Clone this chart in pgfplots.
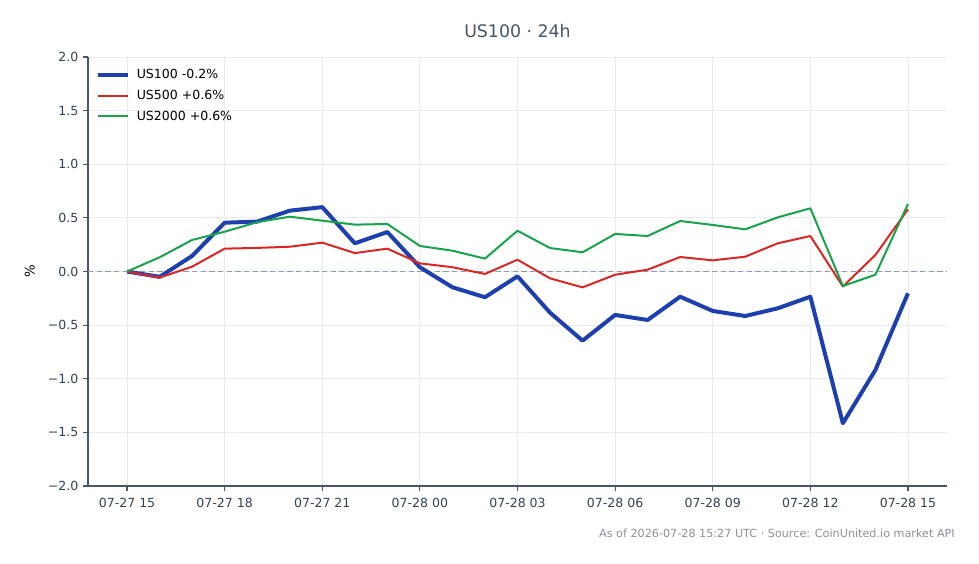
\documentclass[border=0pt]{standalone}
\usepackage{fontspec}
\setmainfont{DejaVu Sans}
\usepackage{pgfplots}
\pgfplotsset{compat=1.18}

\definecolor{cUSA}{HTML}{1E40AF}
\definecolor{cUSB}{HTML}{DC2626}
\definecolor{cUSC}{HTML}{16A34A}
\definecolor{spine}{HTML}{475569}
\definecolor{ticktxt}{HTML}{334155}
\definecolor{gridc}{HTML}{E8EBEF}
\definecolor{zeroc}{HTML}{8F9BB3}
\definecolor{foot}{HTML}{8A9099}

\begin{document}
\begin{tikzpicture}
\useasboundingbox (0pt,0pt) rectangle (734.25pt,423pt);
\begin{axis}[
  at={(66pt,58.5pt)}, anchor=south west,
  scale only axis, width=644.25pt, height=321.75pt,
  xmin=-1.2, xmax=25.2, ymin=-2, ymax=2,
  axis x line*=bottom, axis y line*=left,
  axis line style={spine, line width=0.9pt},
  tick align=outside, major tick length=3.75pt,
  tick style={spine, line width=0.9pt},
  xtick={0,3,...,24},
  xticklabels={07-27 15,07-27 18,07-27 21,07-28 00,07-28 03,07-28 06,07-28 09,07-28 12,07-28 15},
  ytick={-2,-1.5,...,2},
  yticklabels={−2.0,−1.5,−1.0,−0.5,0.0,0.5,1.0,1.5,2.0},
  ticklabel style={font=\fontsize{9.4pt}{11pt}\selectfont, text=ticktxt},
  xticklabel style={yshift=-1.8pt},
  grid=major, major grid style={gridc, line width=0.6pt},
  ylabel={\%}, ylabel style={font=\fontsize{10pt}{12pt}\selectfont, text=ticktxt},
  every axis y label/.style={at={(ticklabel cs:0.5)}, rotate=90, anchor=south, yshift=3pt},
  legend style={draw=none, fill=none, at={(0.0045,0.985)}, anchor=north west,
    font=\fontsize{9.4pt}{11pt}\selectfont, row sep=3.2pt,
    /tikz/every odd column/.append style={column sep=3pt}},
  legend cell align=left,
  legend image code/.code={\draw[#1] (0pt,0pt) -- (22.5pt,0pt);},
  clip=false,
]
\addplot[zeroc, line width=0.8pt, forget plot, dash pattern=on 4pt off 2.5pt] coordinates {(-1.2,0) (25.2,0)};
% US100
\addplot[cUSA, line width=3pt, line join=round] coordinates {
(0,0.0) (1,-0.05) (2,0.145) (3,0.455) (4,0.465) (5,0.567) (6,0.60) (7,0.263) (8,0.368)
(9,0.04) (10,-0.147) (11,-0.24) (12,-0.045) (13,-0.384) (14,-0.645) (15,-0.405)
(16,-0.452) (17,-0.235) (18,-0.368) (19,-0.415) (20,-0.343) (21,-0.235) (22,-1.415)
(23,-0.918) (24,-0.203)};
\addlegendentry{US100 -0.2\%}
% US500
\addplot[cUSB, line width=1.5pt, line join=round] coordinates {
(0,0.0) (1,-0.057) (2,0.045) (3,0.213) (4,0.22) (5,0.231) (6,0.269) (7,0.172) (8,0.213)
(9,0.076) (10,0.04) (11,-0.023) (12,0.11) (13,-0.064) (14,-0.148) (15,-0.03)
(16,0.017) (17,0.135) (18,0.104) (19,0.138) (20,0.263) (21,0.331) (22,-0.14)
(23,0.154) (24,0.58)};
\addlegendentry{US500 +0.6\%}
% US2000
\addplot[cUSC, line width=1.5pt, line join=round] coordinates {
(0,0.0) (1,0.132) (2,0.294) (3,0.371) (4,0.46) (5,0.511) (6,0.474) (7,0.437) (8,0.443)
(9,0.238) (10,0.194) (11,0.12) (12,0.38) (13,0.219) (14,0.179) (15,0.35)
(16,0.331) (17,0.471) (18,0.434) (19,0.393) (20,0.505) (21,0.589) (22,-0.135)
(23,-0.03) (24,0.629)};
\addlegendentry{US2000 +0.6\%}
\end{axis}
\node[font=\fontsize{13pt}{15pt}\selectfont, text=spine] at (388.1pt,399.75pt) {US100 · 24h};
\node[font=\fontsize{8.4pt}{10pt}\selectfont, text=foot, anchor=east, inner sep=0pt] at (716.25pt,23.25pt) {As of 2026-07-28 15:27 UTC · Source: CoinUnited.io market API};
\end{tikzpicture}
\end{document}
